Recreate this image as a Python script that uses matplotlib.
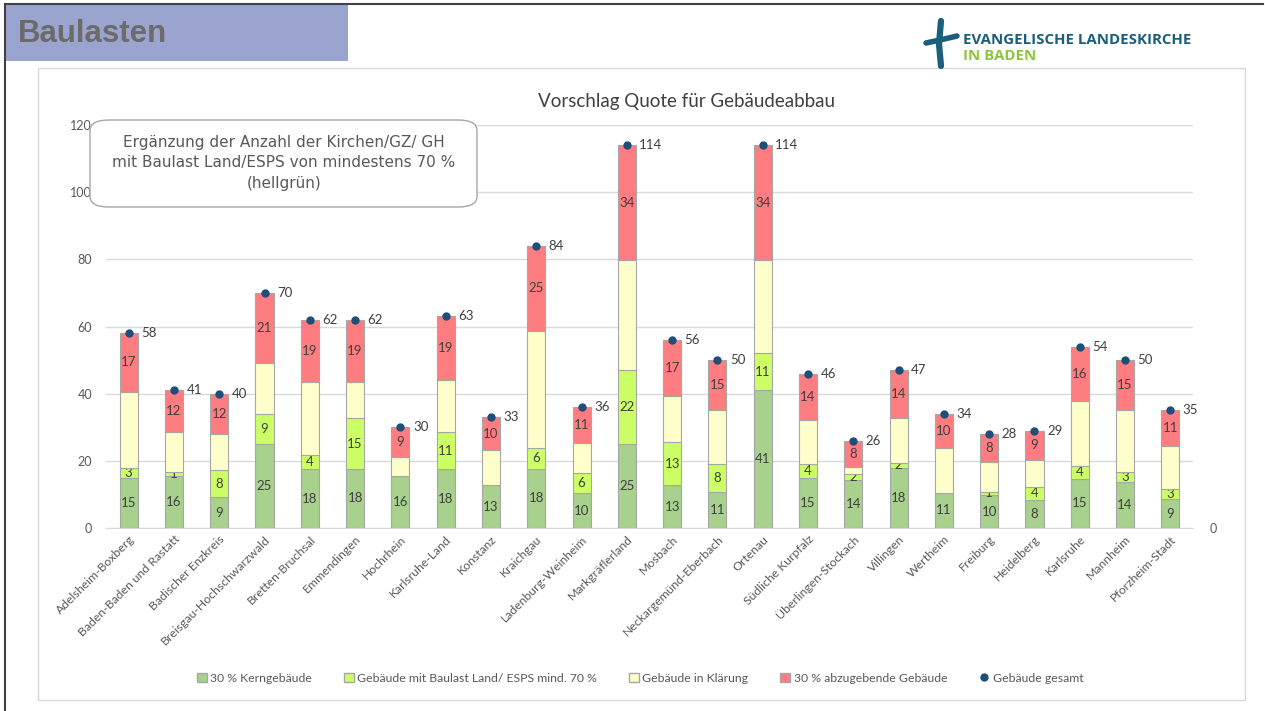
import numpy as np
import matplotlib.pyplot as plt
from matplotlib.patches import Rectangle, FancyBboxPatch, Patch
from matplotlib.lines import Line2D

# Data.
bezirke = ["Adelsheim-Boxberg", "Baden-Baden und Rastatt", "Badischer Enzkreis",
           "Breisgau-Hochschwarzwald", "Bretten-Bruchsal", "Emmendingen", "Hochrhein",
           "Karlsruhe-Land", "Konstanz", "Kraichgau", "Ladenburg-Weinheim",
           "Markgräflerland", "Mosbach", "Neckargemünd-Eberbach", "Ortenau",
           "Südliche Kurpfalz", "Überlingen-Stockach", "Villingen", "Wertheim",
           "Freiburg", "Heidelberg", "Karlsruhe", "Mannheim", "Pforzheim-Stadt"]
kern = [14.9, 15.5, 9.2, 25.0, 17.5, 17.6, 15.5, 17.5, 12.8, 17.6, 10.4, 25.0,
        12.8, 10.8, 41.1, 14.9, 14.3, 17.8, 10.5, 9.8, 8.3, 14.6, 13.7, 8.6]
baulast = [2.9, 1.1, 8.0, 8.9, 4.1, 15.1, 0.0, 11.0, 0.0, 6.2, 5.9, 21.9,
           12.7, 8.2, 11.0, 4.1, 1.9, 1.7, 0.0, 1.0, 4.0, 4.0, 2.9, 3.1]
klaerung = [22.8, 12.1, 10.8, 15.1, 21.8, 10.7, 5.5, 15.6, 10.3, 35.0, 8.9, 32.9,
            13.7, 16.0, 27.7, 13.2, 2.0, 13.4, 13.3, 8.8, 8.0, 19.2, 18.4, 12.8]
abgabe = [17.4, 12.3, 12.0, 21.0, 18.6, 18.6, 9.0, 18.9, 9.9, 25.2, 10.8, 34.2,
          16.8, 15.0, 34.2, 13.8, 7.8, 14.1, 10.2, 8.4, 8.7, 16.2, 15.0, 10.5]
gesamt = [58, 41, 40, 70, 62, 62, 30, 63, 33, 84, 36, 114,
          56, 50, 114, 46, 26, 47, 34, 28, 29, 54, 50, 35]

c_kern = "#A9D18E"
c_baulast = "#CCFF66"
c_klaer = "#FFFFCC"
c_abgabe = "#FF7C80"
c_dot = "#1F4E79"
txt = "#404040"
gray = "#595959"

W, H = 1265, 711
fig = plt.figure(figsize=(W / 100, H / 100), dpi=100)
plt.rcParams['font.family'] = ['Lato', 'DejaVu Sans']

def fx(px):
    return px / W

def fy(py):
    return 1 - py / H

# Slide frame + header.
fig.add_artist(Line2D([fx(5), fx(1263)], [fy(4), fy(4)], color="#404040", lw=1.5))
fig.add_artist(Line2D([fx(5), fx(5)], [fy(4), fy(711)], color="#404040", lw=1.5))
fig.add_artist(Rectangle((fx(5), fy(61)), fx(348) - fx(5), fy(4) - fy(61),
                         facecolor="#9BA3CF", edgecolor="none"))
fig.text(fx(18), fy(34), "Baulasten", fontsize=22.5, fontweight="bold", color="#6B6B6B",
         family="Liberation Sans", va="center", ha="left")

# Logo.
fig.add_artist(Line2D([fx(941), fx(939), fx(941)], [fy(21), fy(44), fy(66)],
                      color="#1B5F7B", lw=4.5, solid_capstyle="round"))
fig.add_artist(Line2D([fx(926), fx(940), fx(957)], [fy(43), fy(40), fy(36)],
                      color="#1B5F7B", lw=4, solid_capstyle="round"))
fig.text(fx(963), fy(40), "EVANGELISCHE LANDESKIRCHE", fontsize=10.8, fontweight="bold",
         color="#1B5F7B", family="Open Sans", va="center", ha="left")
fig.text(fx(963), fy(56), "IN BADEN", fontsize=10.8, fontweight="bold",
         color="#8DC63F", family="Open Sans", va="center", ha="left")

# Chart frame.
fig.add_artist(Rectangle((fx(38), fy(700)), fx(1245) - fx(38), fy(68) - fy(700),
                         facecolor="none", edgecolor="#D9D9D9", lw=1))

ax = fig.add_axes([fx(106), fy(528), fx(1193) - fx(106), fy(125) - fy(528)])
x = np.arange(len(bezirke))
bw = 0.40
ec = "#A6A6A6"
bottom = np.zeros(len(x))
for vals, col in [(kern, c_kern), (baulast, c_baulast), (klaerung, c_klaer), (abgabe, c_abgabe)]:
    bars = ax.bar(x, vals, bw, bottom=bottom, color=col, edgecolor=ec, linewidth=0.8, zorder=3)
    if col != c_klaer:
        labels = [str(int(v + 0.5)) if v > 0 else "" for v in vals]
        ax.bar_label(bars, labels=labels, label_type="center", fontsize=9.5, color=txt)
    bottom = bottom + np.array(vals)

ax.plot(x, gesamt, "o", color=c_dot, markersize=5, zorder=4, linestyle="none")
for xi, g in zip(x, gesamt):
    ax.annotate(str(g), (xi, g), xytext=(9, 0), textcoords="offset points",
                fontsize=9.5, color=txt, va="center", ha="left")

ax.set_xlim(-0.5, len(x) - 0.5)
ax.set_ylim(0, 120)
ax.set_yticks(range(0, 121, 20))
ax.grid(axis="y", color="#D9D9D9", linewidth=1, zorder=0)
for s in ["top", "right", "left"]:
    ax.spines[s].set_visible(False)
ax.spines["bottom"].set_color("#D9D9D9")
ax.tick_params(axis="y", length=0, labelsize=9, labelcolor=gray, pad=10)
ax.tick_params(axis="x", length=0, labelsize=8.8, labelcolor=gray, pad=4)
ax.set_xticks(x)
ax.set_xticklabels(bezirke, rotation=45, ha="right", rotation_mode="anchor")

ax2 = ax.twinx()
ax2.set_ylim(0, 120)
ax2.set_yticks([0])
for s in ax2.spines.values():
    s.set_visible(False)
ax2.tick_params(axis="y", length=0, labelsize=9, labelcolor=gray, pad=12)

fig.text(fx(686), fy(102), "Vorschlag Quote für Gebäudeabbau", fontsize=13.5,
         color=txt, ha="center", va="center")

# Note box.
fig.add_artist(FancyBboxPatch((fx(90), fy(207)), fx(477) - fx(90), fy(120) - fy(207),
                              boxstyle="round,pad=0,rounding_size=0.015",
                              facecolor="white", edgecolor="#A6A6A6", lw=1, zorder=5))
fig.text(fx(284), fy(163), "Ergänzung der Anzahl der Kirchen/GZ/ GH\n"
         "mit Baulast Land/ESPS von mindestens 70 %\n(hellgrün)",
         fontsize=11, color=gray, family="DejaVu Sans", ha="center", va="center",
         linespacing=1.45, zorder=6)

handles = [Patch(facecolor=c_kern, edgecolor=ec, label="30 % Kerngebäude"),
           Patch(facecolor=c_baulast, edgecolor=ec, label="Gebäude mit Baulast Land/ ESPS mind. 70 %"),
           Patch(facecolor=c_klaer, edgecolor=ec, label="Gebäude in Klärung"),
           Patch(facecolor=c_abgabe, edgecolor=ec, label="30 % abzugebende Gebäude"),
           Line2D([], [], marker="o", color=c_dot, linestyle="none", markersize=5,
                  label="Gebäude gesamt")]
fig.legend(handles=handles, loc="center", bbox_to_anchor=(fx(640), fy(678)), ncol=5,
           frameon=False, fontsize=8.8, labelcolor=gray, handlelength=0.8,
           handleheight=0.8, handletextpad=0.3, columnspacing=2.6)

plt.savefig("out.png", dpi=100)
